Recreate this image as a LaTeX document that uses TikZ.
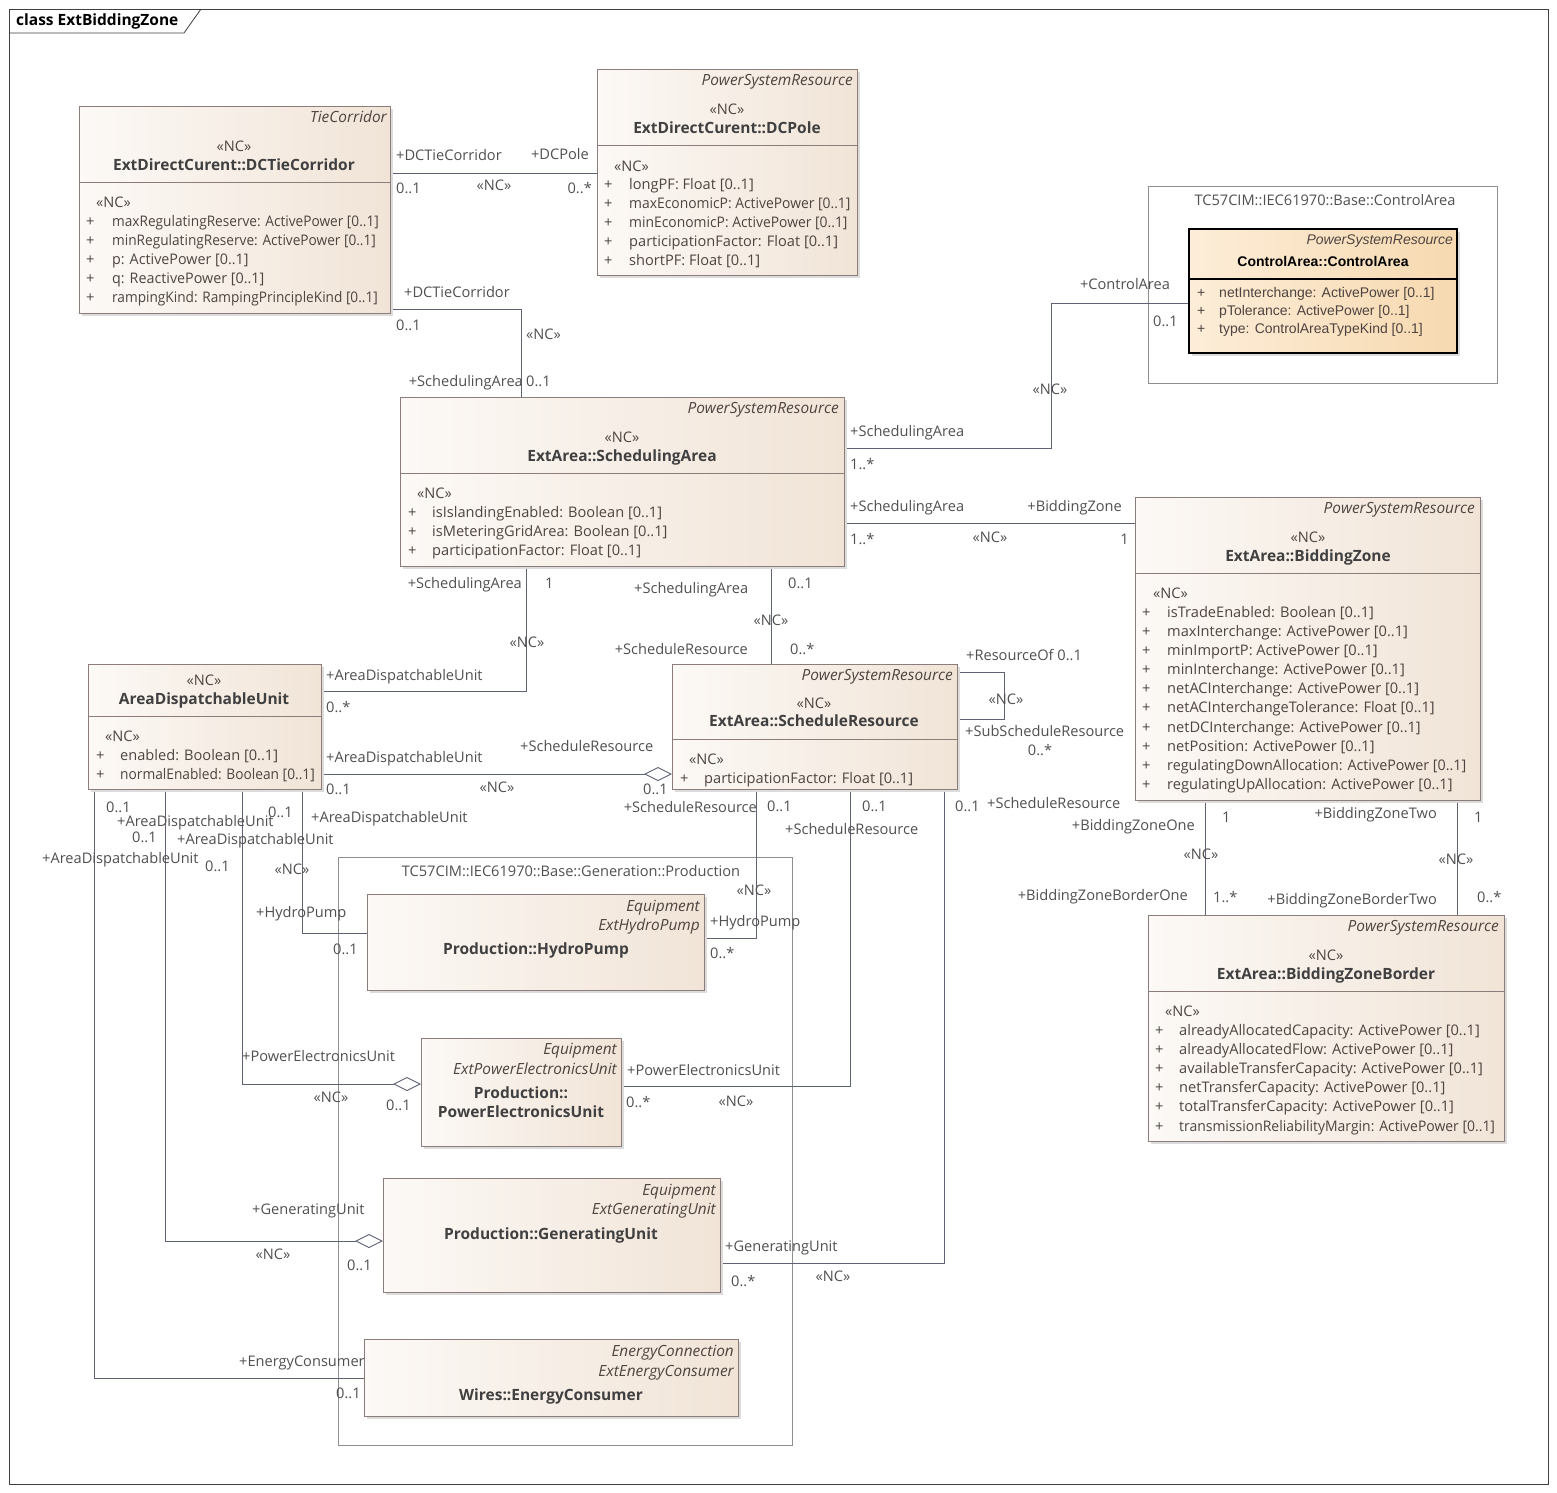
\documentclass[tikz,border=0pt]{standalone}
\usepackage{fontspec}
\usepackage{graphicx}
\setmainfont{Open Sans}
\newfontfamily\arialf{Liberation Sans}
\usetikzlibrary{arrows.meta}
\definecolor{clsL}{HTML}{FCF9F6}
\definecolor{clsR}{HTML}{F1E4D7}
\definecolor{caL}{HTML}{FDEDD8}
\definecolor{caR}{HTML}{F6D9B0}
\definecolor{boxc}{HTML}{8C7C7A}
\definecolor{linec}{HTML}{5E6275}
\definecolor{labc}{HTML}{505050}
\definecolor{attc}{HTML}{4E4440}
\definecolor{namec}{HTML}{404040}
\definecolor{pkgc}{HTML}{8F8F8F}
\definecolor{shc}{HTML}{DCDCDC}
\newcounter{nn}
\newcommand\myfs{\fontsize{14.6}{17}\selectfont}
\newcommand\myfb{\fontsize{15.5}{18}\selectfont\bfseries}
\newcommand\myfi{\fontsize{15.4}{18}\selectfont\itshape}
\tikzset{
 lab/.style={font=\myfs, text=labc, inner sep=0pt, yshift=-2.5pt},
 att/.style={font=\myfs, text=attc, inner sep=0pt, yshift=-2.5pt},
 itl/.style={font=\myfi, text=attc, inner sep=0pt, yshift=-2pt},
 nm/.style={font=\myfb, text=namec, inner sep=0pt, yshift=-2.5pt},
 cattr/.style={font=\arialf\fontsize{14}{16}\selectfont, text=attc, inner sep=0pt, yshift=-1.5pt},
 cls/.style={draw=boxc, line width=0.9pt, left color=clsL, right color=clsR, inner sep=0pt, outer sep=0pt, anchor=north west},
 cabox/.style={draw=black, line width=1.8pt, left color=caL, right color=caR, inner sep=0pt, outer sep=0pt, anchor=north west},
 pkg/.style={draw=pkgc, line width=0.8pt, inner sep=0pt, outer sep=0pt, anchor=north west},
 conn/.style={draw=linec, line width=0.9pt},
 agg/.style={-{Diamond[length=28pt,width=14pt,fill=white]}},
 divl/.style={draw=boxc, line width=0.9pt}
}
\newcommand\T[4][lab]{\stepcounter{nn}\node[#1,anchor=#2] (t\thenn) at (#3) {#4};}
\newcommand\A[5][1]{\T[att]{mid west}{#2,#4}{+}\T[att]{mid west}{#3,#4}{\scalebox{#1}[1]{#5}}}
\newcommand\clsbox[6][cls]{%
 \fill[shc] (#3+3,#4+3) rectangle (#5+3,#6+3);
 \node[#1, minimum width={(#5-#3)*1pt}, minimum height={(#6-#4)*1pt}] (#2) at (#3,#4) {};}
\begin{document}
\begin{tikzpicture}[x=1pt,y=-1pt]
\useasboundingbox (0,0) rectangle (1557,1492);
\fill[white] (0,0) rectangle (1557,1492);
% frame
\node[draw=black!75, line width=0.8pt, minimum width=1539pt, minimum height=1475pt, anchor=north west, inner sep=0pt, outer sep=0pt] (frame) at (9,9) {};
\draw[black!75, line width=0.8pt] (frame.north west |- 0,33) -- (184,33) -- (201,9);
\T[nm]{mid west}{16,20}{\color{black}class ExtBiddingZone}

% packages
\node[pkg, minimum width=349pt, minimum height=197pt] (capkg) at (1148,186) {};
\T[lab]{mid}{1325,200}{TC57CIM::IEC61970::Base::ControlArea}
\node[pkg, minimum width=454pt, minimum height=588pt] (prod) at (338,857) {};
\T[lab]{mid}{571,871}{TC57CIM::IEC61970::Base::Generation::Production}

% connectors
\draw[conn] (79,173) ++(311,0) coordinate (a1) -- (597,173) coordinate (a2);
\draw[conn] (a1) ++(0,136) coordinate (b1) -| (521,397) coordinate (b2);
\draw[conn] (844,448) coordinate (c1) -| (1051,303) -- (1189,303) coordinate (c2);
\draw[conn] (844,523) coordinate (d1) -- (1135,523) coordinate (d2);
\draw[conn] (526,566) coordinate (e1) |- (321,691) coordinate (e2);
\draw[conn] (771,566) coordinate (f1) -- (771,664) coordinate (f2);
\draw[conn] (957,672) coordinate (g1) -| (1004,719) -- (957,719) coordinate (g2);
\draw[conn, agg] (321,774) coordinate (h1) -- (672,774) coordinate (h2);
\draw[conn] (1205,800) coordinate (i1) -- (1205,915) coordinate (i2);
\draw[conn] (1457,800) coordinate (j1) -- (1457,915) coordinate (j2);
\draw[conn] (302,789) coordinate (k1) |- (367,933) coordinate (k2);
\draw[conn, agg] (242,789) coordinate (k3) |- (421,1084) coordinate (k4);
\draw[conn, agg] (165,789) coordinate (k5) |- (383,1241) coordinate (k6);
\draw[conn] (94,789) coordinate (k7) |- (364,1378) coordinate (k8);
\draw[conn] (756,789) coordinate (l1) |- (704,938) coordinate (l2);
\draw[conn] (850,789) coordinate (m1) |- (621,1086) coordinate (m2);
\draw[conn] (944,789) coordinate (n1) |- (720,1263) coordinate (n2);

% ===== DCTieCorridor
\clsbox{tie}{79}{106}{390}{313}
\draw[divl] (tie.west |- 0,182) -- (tie.east |- 0,182);
\T[itl]{mid east}{387,118}{TieCorridor}
\T[att]{mid}{234,146}{«NC»}
\T[nm]{mid}{234,165}{ExtDirectCurent::DCTieCorridor}
\T[att]{mid west}{96,202}{«NC»}
\A[0.935]{86}{112}{221}{maxRegulatingReserve: ActivePower [0..1]}
\A[0.935]{86}{112}{240}{minRegulatingReserve: ActivePower [0..1]}
\A[0.98]{86}{112}{259}{p: ActivePower [0..1]}
\A[0.98]{86}{112}{278}{q: ReactivePower [0..1]}
\A[0.935]{86}{112}{297}{rampingKind: RampingPrincipleKind [0..1]}

% ===== DCPole
\clsbox{pole}{597}{69}{857}{275}
\draw[divl] (pole.west |- 0,145) -- (pole.east |- 0,145);
\T[itl]{mid east}{853,81}{PowerSystemResource}
\T[att]{mid}{727,109}{«NC»}
\T[nm]{mid}{727,128}{ExtDirectCurent::DCPole}
\T[att]{mid west}{614,166}{«NC»}
\A{604}{629}{184}{longPF: Float [0..1]}
\A[0.95]{604}{629}{203}{maxEconomicP: ActivePower [0..1]}
\A[0.95]{604}{629}{222}{minEconomicP: ActivePower [0..1]}
\A{604}{629}{241}{participationFactor: Float [0..1]}
\A{604}{629}{260}{shortPF: Float [0..1]}

% ===== ControlArea
\clsbox[cabox]{ca}{1189}{229}{1457}{353}
\draw[black, line width=1.4pt] (ca.west |- 0,279) -- (ca.east |- 0,279);
\T[cattr]{mid east}{1453,240}{\itshape PowerSystemResource}
\T[cattr]{mid}{1323,262}{\bfseries\color{black}ControlArea::ControlArea}
\T[cattr]{mid west}{1197,293}{+}\T[cattr]{mid west}{1219,293}{netInterchange: ActivePower [0..1]}
\T[cattr]{mid west}{1197,311}{+}\T[cattr]{mid west}{1219,311}{pTolerance: ActivePower [0..1]}
\T[cattr]{mid west}{1197,329}{+}\T[cattr]{mid west}{1219,329}{type: ControlAreaTypeKind [0..1]}

% ===== SchedulingArea
\clsbox{sched}{400}{397}{844}{566}
\draw[divl] (sched.west |- 0,473) -- (sched.east |- 0,473);
\T[itl]{mid east}{839,409}{PowerSystemResource}
\T[att]{mid}{622,437}{«NC»}
\T[nm]{mid}{622,456}{ExtArea::SchedulingArea}
\T[att]{mid west}{417,493}{«NC»}
\A{408}{432}{512}{isIslandingEnabled: Boolean [0..1]}
\A{408}{432}{531}{isMeteringGridArea: Boolean [0..1]}
\A{408}{432}{550}{participationFactor: Float [0..1]}

% ===== BiddingZone
\clsbox{bz}{1135}{497}{1480}{800}
\draw[divl] (bz.west |- 0,573) -- (bz.east |- 0,573);
\T[itl]{mid east}{1475,509}{PowerSystemResource}
\T[att]{mid}{1308,537}{«NC»}
\T[nm]{mid}{1308,556}{ExtArea::BiddingZone}
\T[att]{mid west}{1153,593}{«NC»}
\A{1142}{1167}{612}{isTradeEnabled: Boolean [0..1]}
\A{1142}{1167}{631}{maxInterchange: ActivePower [0..1]}
\A{1142}{1167}{650}{minImportP: ActivePower [0..1]}
\A{1142}{1167}{669}{minInterchange: ActivePower [0..1]}
\A{1142}{1167}{688}{netACInterchange: ActivePower [0..1]}
\A{1142}{1167}{707}{netACInterchangeTolerance: Float [0..1]}
\A{1142}{1167}{727}{netDCInterchange: ActivePower [0..1]}
\A{1142}{1167}{746}{netPosition: ActivePower [0..1]}
\A[0.98]{1142}{1167}{765}{regulatingDownAllocation: ActivePower [0..1]}
\A{1142}{1167}{784}{regulatingUpAllocation: ActivePower [0..1]}

% ===== BiddingZoneBorder
\clsbox{bzb}{1148}{915}{1504}{1141}
\draw[divl] (bzb.west |- 0,991) -- (bzb.east |- 0,991);
\T[itl]{mid east}{1499,927}{PowerSystemResource}
\T[att]{mid}{1326,955}{«NC»}
\T[nm]{mid}{1326,974}{ExtArea::BiddingZoneBorder}
\T[att]{mid west}{1165,1011}{«NC»}
\A{1155}{1179}{1030}{alreadyAllocatedCapacity: ActivePower [0..1]}
\A{1155}{1179}{1049}{alreadyAllocatedFlow: ActivePower [0..1]}
\A{1155}{1179}{1068}{availableTransferCapacity: ActivePower [0..1]}
\A{1155}{1179}{1087}{netTransferCapacity: ActivePower [0..1]}
\A{1155}{1179}{1106}{totalTransferCapacity: ActivePower [0..1]}
\A[0.955]{1155}{1179}{1126}{transmissionReliabilityMargin: ActivePower [0..1]}

% ===== AreaDispatchableUnit
\clsbox{adu}{88}{664}{321}{789}
\draw[divl] (adu.west |- 0,716) -- (adu.east |- 0,716);
\T[att]{mid}{204,680}{«NC»}
\T[nm]{mid}{204,699}{AreaDispatchableUnit}
\T[att]{mid west}{105,736}{«NC»}
\A{96}{120}{755}{enabled: Boolean [0..1]}
\A[0.94]{96}{120}{774}{normalEnabled: Boolean [0..1]}

% ===== ScheduleResource
\clsbox{sr}{672}{664}{957}{789}
\draw[divl] (sr.west |- 0,739) -- (sr.east |- 0,739);
\T[itl]{mid east}{953,676}{PowerSystemResource}
\T[att]{mid}{814,703}{«NC»}
\T[nm]{mid}{814,721}{ExtArea::ScheduleResource}
\T[att]{mid west}{689,759}{«NC»}
\A{680}{704}{778}{participationFactor: Float [0..1]}

% ===== Production classes
\clsbox{hp}{367}{894}{704}{990}
\T[itl]{mid east}{700,907}{Equipment}
\T[itl]{mid east}{700,926}{ExtHydroPump}
\T[nm]{mid}{536,949}{Production::HydroPump}

\clsbox{pe}{421}{1038}{621}{1146}
\T[itl]{mid east}{617,1050}{Equipment}
\T[itl]{mid east}{617,1070}{ExtPowerElectronicsUnit}
\T[nm]{mid}{521,1093}{Production::}
\T[nm]{mid}{521,1112}{PowerElectronicsUnit}

\clsbox{gu}{383}{1178}{720}{1292}
\T[itl]{mid east}{716,1191}{Equipment}
\T[itl]{mid east}{716,1210}{ExtGeneratingUnit}
\T[nm]{mid}{551,1234}{Production::GeneratingUnit}

\clsbox{ec}{364}{1339}{738}{1416}
\T[itl]{mid east}{734,1352}{EnergyConnection}
\T[itl]{mid east}{734,1372}{ExtEnergyConsumer}
\T[nm]{mid}{551,1395}{Wires::EnergyConsumer}

% ===== connector labels
% A
\T{mid west}{396,155}{+DCTieCorridor}
\T{mid east}{589,154}{+DCPole}
\T{mid west}{396,188}{0..1}
\T{mid}{494,185}{«NC»}
\T{mid east}{592,188}{0..*}
% B
\T{mid west}{404,292}{+DCTieCorridor}
\T{mid west}{396,325}{0..1}
\T{mid west}{526,334}{«NC»}
\T{mid east}{523,381}{+SchedulingArea}
\T{mid west}{526,381}{0..1}
% C
\T{mid west}{850,431}{+SchedulingArea}
\T{mid west}{850,464}{1..*}
\T{mid}{1050,389}{«NC»}
\T{mid}{1125,284}{+ControlArea}
\T{mid west}{1153,321}{0..1}
% D
\T{mid west}{850,506}{+SchedulingArea}
\T{mid east}{1122,506}{+BiddingZone}
\T{mid west}{850,539}{1..*}
\T{mid}{990,537}{«NC»}
\T{mid east}{1129,539}{1}
% E
\T{mid east}{522,583}{+SchedulingArea}
\T{mid west}{545,583}{1}
\T{mid}{527,642}{«NC»}
\T{mid west}{326,675}{+AreaDispatchableUnit}
\T{mid west}{326,707}{0..*}
% F
\T{mid west}{634,588}{+SchedulingArea}
\T{mid west}{788,583}{0..1}
\T{mid}{771,620}{«NC»}
\T{mid east}{748,649}{+ScheduleResource}
\T{mid west}{790,649}{0..*}
% G
\T{mid west}{966,655}{+ResourceOf 0..1}
\T{mid}{1006,699}{«NC»}
\T{mid west}{965,731}{+SubScheduleResource}
\T{mid}{1040,750}{0..*}
% H
\T{mid west}{326,757}{+AreaDispatchableUnit}
\T{mid west}{326,789}{0..1}
\T{mid}{497,787}{«NC»}
\T{mid west}{520,746}{+ScheduleResource}
\T{mid west}{643,789}{0..1}
% I, J
\T{mid east}{1195,825}{+BiddingZoneOne}
\T{mid west}{1222,817}{1}
\T{mid}{1201,854}{«NC»}
\T{mid east}{1188,895}{+BiddingZoneBorderOne}
\T{mid west}{1213,897}{1..*}
\T{mid east}{1437,813}{+BiddingZoneTwo}
\T{mid west}{1474,817}{1}
\T{mid}{1456,859}{«NC»}
\T{mid east}{1437,899}{+BiddingZoneBorderTwo}
\T{mid west}{1477,897}{0..*}
% ADU bottom
\T{mid west}{106,807}{0..1}
\T{mid west}{117,821}{+AreaDispatchableUnit}
\T{mid west}{132,837}{0..1}
\T{mid west}{177,839}{+AreaDispatchableUnit}
\T{mid west}{42,858}{+AreaDispatchableUnit}
\T{mid west}{205,866}{0..1}
\T{mid west}{268,812}{0..1}
\T{mid west}{311,817}{+AreaDispatchableUnit}
% K1
\T{mid}{292,869}{«NC»}
\T{mid west}{256,912}{+HydroPump}
\T{mid west}{333,949}{0..1}
% K2
\T{mid west}{242,1056}{+PowerElectronicsUnit}
\T{mid}{331,1097}{«NC»}
\T{mid west}{386,1105}{0..1}
% K3
\T{mid west}{252,1209}{+GeneratingUnit}
\T{mid}{273,1254}{«NC»}
\T{mid west}{347,1265}{0..1}
% K4
\T{mid west}{239,1361}{+EnergyConsumer}
\T{mid west}{336,1393}{0..1}
% L
\T{mid east}{757,807}{+ScheduleResource}
\T{mid west}{767,806}{0..1}
\T{mid}{754,890}{«NC»}
\T{mid west}{710,921}{+HydroPump}
\T{mid west}{710,953}{0..*}
% M
\T{mid west}{862,806}{0..1}
\T{mid west}{785,829}{+ScheduleResource}
\T{mid west}{627,1070}{+PowerElectronicsUnit}
\T{mid west}{626,1102}{0..*}
\T{mid}{736,1101}{«NC»}
% N
\T{mid west}{955,806}{0..1}
\T{mid west}{987,803}{+ScheduleResource}
\T{mid west}{725,1246}{+GeneratingUnit}
\T{mid west}{731,1281}{0..*}
\T{mid}{833,1276}{«NC»}
\end{tikzpicture}
\end{document}
